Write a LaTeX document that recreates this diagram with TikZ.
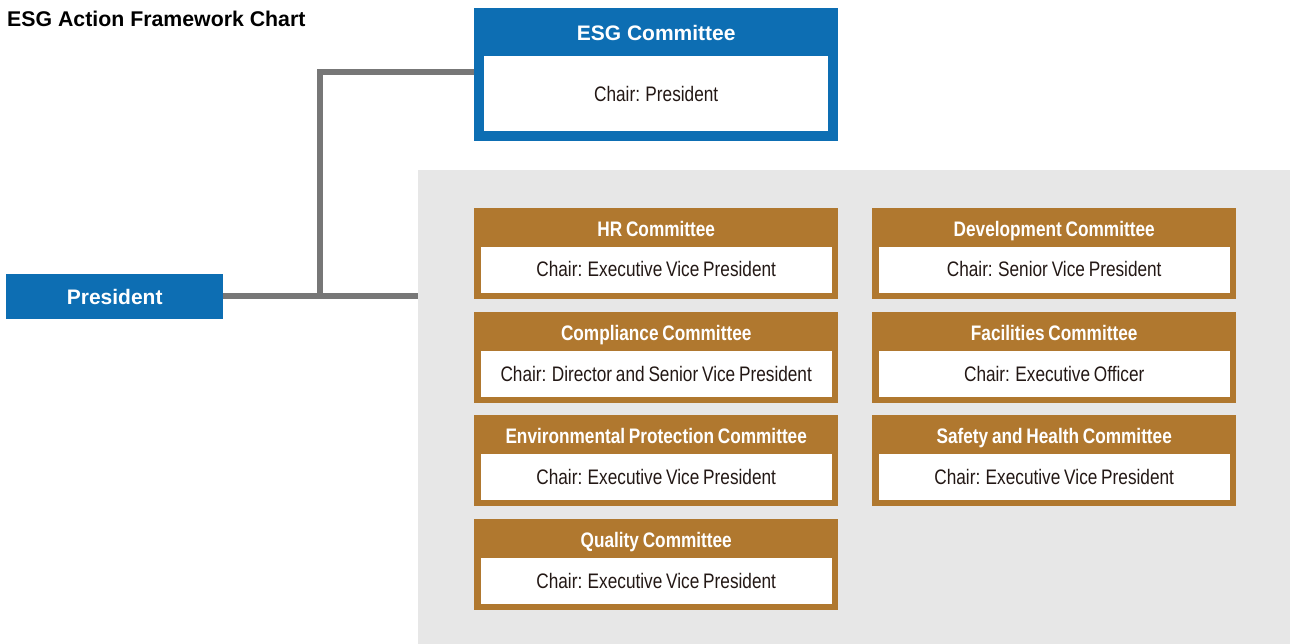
\documentclass[tikz,border=0pt]{standalone}
\usepackage{fontspec}
\setmainfont{Liberation Sans}
\newfontfamily\condfont[FakeStretch=0.82, WordSpace=0.8]{Liberation Sans}
\usetikzlibrary{positioning}

\definecolor{esgblue}{HTML}{0D6EB3}
\definecolor{combrown}{HTML}{B0782F}
\definecolor{linegray}{HTML}{777777}
\definecolor{panelgray}{HTML}{E7E7E7}
\definecolor{chairink}{HTML}{231815}

\tikzset{
  combox/.style={fill=combrown, inner sep=0pt, anchor=north west,
    minimum width=364pt, minimum height=91pt},
  chairbox/.style={fill=white, inner sep=0pt, anchor=north,
    minimum width=351pt, minimum height=46pt},
  comtitle/.style={anchor=base, inner sep=0pt, text=white,
    font=\condfont\bfseries\fontsize{21}{25}\selectfont},
  chairtext/.style={anchor=base, inner sep=0pt, text=chairink,
    font=\condfont\fontsize{21}{25}\selectfont},
  link/.style={draw=linegray, line width=5.5pt}
}

% one committee: name, top left corner, title, chair
\newcommand{\committee}[4]{%
  \node[combox] (#1) at (#2) {};
  \node[chairbox] (#1chair) at ([yshift=-39pt]#1.north) {};
  \node[comtitle] (#1title) at ([yshift=-28.5pt]#1.north) {#3};
  \node[chairtext] (#1text) at ([yshift=-69pt]#1.north) {#4};
}

\begin{document}
\begin{tikzpicture}[x=1pt, y=-1pt]
\useasboundingbox (0,0) rectangle (1290,644);

\node[anchor=base west, inner sep=0pt, text=black,
  font=\bfseries\fontsize{21.3}{25}\selectfont] (title) at (7,27) {ESG Action Framework Chart};

% gray panel behind the committees
\node[fill=panelgray, inner sep=0pt, anchor=north west,
  minimum width=872pt, minimum height=474pt] (panel) at (418,170) {};

% ESG committee
\node[fill=esgblue, inner sep=0pt, anchor=north west,
  minimum width=364pt, minimum height=133pt] (esg) at (474,8) {};
\node[fill=white, inner sep=0pt, anchor=north,
  minimum width=344pt, minimum height=75pt] (esgchair) at ([yshift=-48pt]esg.north) {};
\node[anchor=base, inner sep=0pt, text=white,
  font=\bfseries\fontsize{21}{25}\selectfont] (esgtitle) at ([yshift=-32.7pt]esg.north) {ESG Committee};
\node[chairtext] (esgtext) at ([yshift=-93.7pt]esg.north) {Chair: President};

% president
\node[fill=esgblue, inner sep=0pt, anchor=north west,
  minimum width=217pt, minimum height=45pt] (pres) at (6,274) {};
\node[anchor=base, inner sep=0pt, text=white,
  font=\bfseries\fontsize{21}{25}\selectfont] (prestitle) at ([yshift=-31pt]pres.north) {President};

% connectors
\coordinate (fork) at (320,296);
\draw[link] (pres.east |- fork) -- (panel.west |- fork);
\draw[link] (fork) |- ([yshift=2.5pt]esg.west);

% committees
\committee{hr}{474,208}{HR Committee}{Chair: Executive Vice President}
\committee{comp}{474,312}{Compliance Committee}{Chair: Director and Senior Vice President}
\committee{env}{474,415}{Environmental Protection Committee}{Chair: Executive Vice President}
\committee{qual}{474,519}{Quality Committee}{Chair: Executive Vice President}
\committee{dev}{872,208}{Development Committee}{Chair: Senior Vice President}
\committee{fac}{872,312}{Facilities Committee}{Chair: Executive Officer}
\committee{safe}{872,415}{Safety and Health Committee}{Chair: Executive Vice President}
\end{tikzpicture}
\end{document}
